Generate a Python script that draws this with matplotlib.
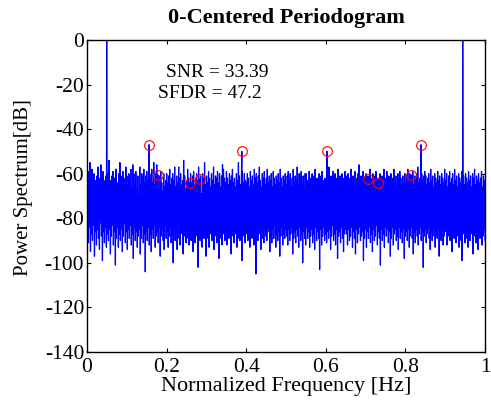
import numpy as np
import matplotlib
matplotlib.use("Agg")
import matplotlib.pyplot as plt

plt.rcParams['font.family'] = ['Liberation Serif', 'DejaVu Serif']
plt.rcParams['axes.unicode_minus'] = False

# Noise floor of the periodogram (dB)
noise_db = [
    -62,-88,-59,-91,-65,-84,-55,-95,-64,-87,-58,-90,-68,-83,-60,-97,-63,-86,-67,-92,-61,-85,-57,-89,-64,-94,-62,-82,-56,-88,-65,-99,-59,-86,-63,-91,-68,-84,-61,-93,
    -64,-87,-60,-90,-54,-85,-63,-96,-66,-88,-61,-83,-59,-92,-69,-86,-62,-101,-58,-89,-64,-84,-67,-93,-60,-87,-55,-90,-61,-85,-66,-95,-59,-88,-62,-82,-64,-91,-57,-86,
    -61,-94,-65,-85,-60,-89,-63,-83,-58,-92,-66,-87,-56,-98,-60,-84,-64,-90,-59,-86,-67,-93,-61,-88,-70,-85,-57,-96,-65,-89,-60,-83,-62,-91,-58,-87,-64,-104,-61,-86,
    -59,-90,-63,-84,-66,-92,-60,-87,-62,-95,-58,-85,-64,-89,-55,-83,-65,-93,-60,-88,-56,-86,-63,-91,-67,-84,-61,-97,-59,-88,-64,-85,-68,-90,-60,-94,-66,-83,-63,-89,
    -60,-86,-64,-93,-61,-88,-58,-84,-65,-91,-62,-87,-60,-100,-63,-85,-57,-90,-66,-86,-61,-94,-64,-83,-57,-89,-62,-92,-60,-87,-65,-84,-63,-96,-54,-88,-61,-85,-67,-91,
    -63,-84,-58,-89,-62,-92,-66,-86,-60,-90,-64,-83,-61,-95,-59,-87,-65,-91,-62,-85,-60,-88,-63,-102,-57,-86,-64,-90,-61,-84,-69,-93,-60,-87,-62,-89,-55,-85,-65,-97,
    -61,-89,-64,-85,-59,-93,-62,-87,-66,-84,-60,-90,-63,-86,-57,-94,-65,-88,-61,-83,-62,-91,-59,-86,-64,-98,-60,-89,-66,-85,-61,-92,-56,-87,-58,-84,-62,-90,-64,-88,
    -59,-92,-62,-86,-65,-89,-60,-84,-63,-96,-61,-88,-58,-85,-64,-91,-62,-87,-66,-83,-60,-93,-63,-89,-55,-86,-61,-90,-65,-85,-62,-99,-59,-88,-64,-84,-60,-91,-63,-87,
    -64,-85,-60,-90,-62,-87,-66,-93,-59,-84,-63,-89,-61,-86,-65,-92,-58,-88,-62,-105,-60,-85,-64,-90,-61,-87,-57,-84,-63,-94,-66,-86,-60,-89,-62,-91,-59,-85,-65,-88,
    -62,-90,-58,-86,-64,-84,-61,-95,-63,-88,-60,-91,-66,-85,-59,-89,-62,-83,-65,-93,-61,-87,-63,-90,-60,-86,-64,-97,-58,-88,-62,-84,-66,-92,-61,-87,-63,-89,-60,-85,
    -65,-88,-61,-92,-59,-85,-63,-90,-60,-87,-66,-84,-62,-96,-58,-89,-64,-86,-61,-91,-63,-85,-57,-88,-65,-93,-60,-84,-62,-90,-59,-87,-64,-100,-61,-86,-66,-89,-60,-92,
    -60,-84,-63,-89,-65,-86,-59,-93,-62,-88,-64,-85,-60,-91,-66,-87,-61,-94,-58,-84,-63,-90,-62,-86,-65,-89,-60,-103,-64,-85,-61,-92,-59,-88,-63,-84,-66,-90,-62,-87,
    -63,-91,-60,-86,-62,-89,-57,-85,-64,-94,-61,-88,-65,-83,-59,-90,-63,-87,-60,-92,-66,-85,-62,-98,-58,-88,-64,-86,-61,-91,-63,-84,-60,-89,-65,-95,-62,-87,-59,-85,
    -61,-87,-64,-92,-60,-85,-62,-90,-66,-88,-58,-84,-63,-93,-61,-86,-65,-89,-59,-96,-62,-85,-64,-91,-60,-87,-56,-84,-63,-90,-61,-88,-66,-86,-59,-99,-62,-89,-64,-85,
    -60,-93,-63,-86,-61,-89,-65,-84,-58,-91,-62,-87,-64,-95,-60,-85,-66,-90,-61,-88,-59,-83,-63,-92,-62,-86,-65,-89,-60,-101,-64,-85,-61,-90,-63,-87,-58,-93,-66,-84,
    -62,-88,-59,-85,-64,-91,-61,-86,-63,-97,-60,-89,-65,-84,-62,-92,-58,-87,-64,-85,-61,-90,-66,-88,-60,-94,-63,-84,-59,-89,-62,-86,-65,-91,-61,-85,-64,-98,-60,-88,
    -64,-86,-61,-90,-58,-85,-63,-93,-60,-88,-66,-84,-62,-89,-59,-96,-65,-86,-61,-91,-63,-85,-60,-88,-57,-92,-64,-87,-62,-84,-66,-90,-60,-86,-63,-102,-61,-88,-59,-85,
    -61,-91,-65,-87,-62,-84,-60,-89,-64,-94,-58,-86,-63,-90,-61,-85,-66,-88,-60,-93,-62,-86,-64,-89,-59,-84,-63,-97,-61,-87,-65,-90,-60,-85,-62,-92,-64,-88,-58,-86,
    -63,-85,-60,-92,-66,-88,-61,-86,-59,-90,-64,-84,-62,-95,-60,-87,-65,-89,-58,-85,-63,-91,-61,-88,-66,-84,-60,-93,-62,-86,-64,-90,-59,-99,-63,-87,-61,-85,-65,-91,
    -60,-89,-62,-86,-64,-93,-59,-85,-63,-90,-61,-87,-66,-84,-60,-96,-62,-88,-58,-85,-65,-91,-61,-87,-63,-94,-60,-86,-64,-89,-62,-84,-59,-92,-66,-88,-61,-85,-63,-90,
]

# Fundamental tones (clipped above 0 dB)
signal_freq = [0.0495, 0.944]
signal_db = [5.0, 5.0]

# Harmonic / spur peaks marked with red circles
harm_freq = [0.156, 0.178, 0.259, 0.283, 0.389, 0.603, 0.707, 0.732, 0.814, 0.839]
harm_db = [-47.0, -60.5, -64.0, -62.5, -50.0, -50.0, -62.5, -64.0, -60.5, -47.0]

snr_text = "SNR = 33.39"
sfdr_text = "SFDR = 47.2"

x_ticks = [0, 0.2, 0.4, 0.6, 0.8, 1]
x_ticklabels = ["0", "0.2", "0.4", "0.6", "0.8", "1"]
y_ticks = [-140, -120, -100, -80, -60, -40, -20, 0]

noise_freq = np.linspace(0, 1, len(noise_db))
all_f = np.concatenate([noise_freq, signal_freq, harm_freq])
all_v = np.concatenate([noise_db, signal_db, harm_db])
order = np.argsort(all_f, kind="stable")

fig = plt.figure(figsize=(4.91, 4.01), dpi=100)
ax = fig.add_axes([87/491, 1-352/401, 398/491, 312/401])
ax.plot(all_f[order], all_v[order], color=(0, 0, 1), lw=0.9)
ax.plot(harm_freq, harm_db, 'o', mfc='none', mec='red', ms=7, mew=0.8)

ax.set_xlim(0, 1)
ax.set_ylim(-140, 0)
ax.set_xticks(x_ticks)
ax.set_xticklabels(x_ticklabels)
ax.set_yticks(y_ticks)
ax.tick_params(direction='in', length=3, width=0.8, top=True, right=True,
               labelsize=15.5)
ax.tick_params(axis='x', pad=4)
ax.tick_params(axis='y', pad=2)
for s in ax.spines.values():
    s.set_linewidth(1.0)

ax.set_title("0-Centered Periodogram", fontsize=16, fontweight='bold', pad=12)
ax.set_xlabel("Normalized Frequency [Hz]", fontsize=16, labelpad=0)
ax.set_ylabel("Power Spectrum[dB]", fontsize=15)
ax.yaxis.set_label_coords(-0.136, 0.526)

ax.text(0.198, -14.8, snr_text, fontsize=14, va='center', ha='left')
ax.text(0.178, -23.8, sfdr_text, fontsize=14, va='center', ha='left')

fig.savefig("out.png", dpi=100)
